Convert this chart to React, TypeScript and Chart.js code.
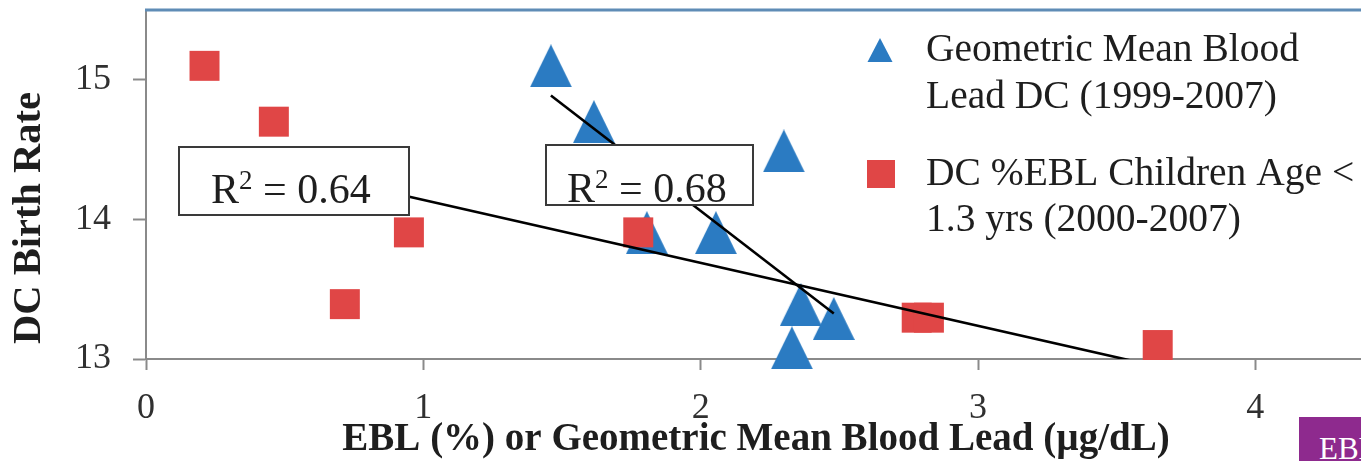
import React, { useEffect, useRef } from "react";
import { Chart, registerables } from "chart.js";

Chart.register(...registerables);

// Geometric mean blood lead, DC (1999-2007): x = µg/dL, y = birth rate
const leadX = [1.46, 1.615, 1.806, 2.055, 2.3, 2.361, 2.48, 2.329];
const leadY = [15.1, 14.7, 13.905, 13.905, 14.49, 13.39, 13.29, 13.08];

// DC %EBL children age < 1.3 yrs (2000-2007): x = %, y = birth rate
const eblX = [0.211, 0.461, 0.717, 0.948, 1.775, 2.779, 2.823, 3.648];
const eblY = [15.1, 14.7, 13.393, 13.907, 13.907, 13.296, 13.296, 13.1];

const xTickValues = [0, 1, 2, 3, 4];
const yTickValues = [13, 14, 15];

const seriesNames = [
  ["Geometric Mean Blood", "Lead DC (1999-2007)"],
  ["DC %EBL Children Age <", "1.3 yrs (2000-2007)"],
];
const rSquaredValues = ["0.64", "0.68"];

const xTitle = "EBL (%) or Geometric Mean Blood Lead (µg/dL)";
const yTitle = "DC Birth Rate";

const BLUE = "#2B7BC2";
const RED = "#E04646";
const SERIF = "'Liberation Serif', 'Times New Roman', serif";
const AXIS_GRAY = "#8A8A8A";
const TEXT = "#1E1E1E";

const CANVAS_W = 1424;
const CANVAS_H = 461;

// Least-squares line spanning the series' x range
function trendLine(xs: number[], ys: number[]) {
  const n = xs.length;
  const mx = xs.reduce((a, b) => a + b, 0) / n;
  const my = ys.reduce((a, b) => a + b, 0) / n;
  let sxy = 0;
  let sxx = 0;
  for (let i = 0; i < n; i++) {
    sxy += (xs[i] - mx) * (ys[i] - my);
    sxx += (xs[i] - mx) * (xs[i] - mx);
  }
  const slope = sxy / sxx;
  const x0 = Math.min(...xs);
  const x1 = Math.max(...xs);
  return [
    { x: x0, y: my + slope * (x0 - mx) },
    { x: x1, y: my + slope * (x1 - mx) },
  ];
}

const toPoints = (xs: number[], ys: number[]) => xs.map((x, i) => ({ x, y: ys[i] }));

// "R² = value" with a raised, smaller 2
function drawRSquared(ctx: CanvasRenderingContext2D, value: string, x: number, y: number) {
  ctx.textAlign = "left";
  ctx.textBaseline = "alphabetic";
  ctx.font = `42px ${SERIF}`;
  ctx.fillText("R", x, y);
  let cx = x + ctx.measureText("R").width;
  ctx.font = `27px ${SERIF}`;
  ctx.fillText("2", cx, y - 14);
  cx += ctx.measureText("2").width;
  ctx.font = `42px ${SERIF}`;
  ctx.fillText(` = ${value}`, cx, y);
}

const overlayPlugin = {
  id: "overlay",
  afterDatasetsDraw(chart: any) {
    const ctx = chart.ctx;
    const boxes = [
      { x: 179, y: 147, w: 230, h: 68, tx: 211, ty: 203 },
      { x: 546, y: 145, w: 207, h: 60, tx: 567, ty: 202 },
    ];
    ctx.save();
    boxes.forEach((b, i) => {
      ctx.fillStyle = "#ffffff";
      ctx.fillRect(b.x, b.y, b.w, b.h);
      ctx.strokeStyle = "#3a3a3a";
      ctx.lineWidth = 2;
      ctx.strokeRect(b.x, b.y, b.w, b.h);
      ctx.fillStyle = TEXT;
      drawRSquared(ctx, rSquaredValues[i], b.tx, b.ty);
    });
    ctx.restore();
  },
  afterDraw(chart: any) {
    const ctx = chart.ctx;
    const area = chart.chartArea;
    ctx.save();

    // top border of the plot area
    ctx.strokeStyle = "#5F8CB6";
    ctx.lineWidth = 3;
    ctx.beginPath();
    ctx.moveTo(area.left - 1, area.top);
    ctx.lineTo(chart.width, area.top);
    ctx.stroke();

    // axis titles
    ctx.fillStyle = TEXT;
    ctx.textAlign = "center";
    ctx.textBaseline = "alphabetic";
    ctx.font = `bold 39px ${SERIF}`;
    ctx.fillText(xTitle, 756, 450);

    ctx.save();
    ctx.translate(40, 218);
    ctx.rotate(-Math.PI / 2);
    ctx.font = `bold 40.5px ${SERIF}`;
    ctx.fillText(yTitle, 0, 0);
    ctx.restore();

    // legend
    ctx.fillStyle = BLUE;
    ctx.beginPath();
    ctx.moveTo(867.5, 62);
    ctx.lineTo(880, 38);
    ctx.lineTo(892.5, 62);
    ctx.closePath();
    ctx.fill();
    ctx.fillStyle = RED;
    ctx.fillRect(867, 160, 28, 28);

    ctx.fillStyle = TEXT;
    ctx.font = `39.5px ${SERIF}`;
    ctx.textAlign = "left";
    ctx.fillText(seriesNames[0][0], 926, 61);
    ctx.fillText(seriesNames[0][1], 926, 108);
    ctx.fillText(seriesNames[1][0], 926, 185);
    ctx.fillText(seriesNames[1][1], 926, 231);

    ctx.restore();
  },
};

export default function App() {
  const ref = useRef<HTMLCanvasElement>(null);

  useEffect(() => {
    const tri = document.createElement("canvas");
    tri.width = 42;
    tri.height = 43;
    const tctx = tri.getContext("2d")!;
    tctx.fillStyle = BLUE;
    tctx.beginPath();
    tctx.moveTo(0, 43);
    tctx.lineTo(21, 0);
    tctx.lineTo(42, 43);
    tctx.closePath();
    tctx.fill();

    const chart = new Chart(ref.current!, {
      type: "scatter",
      data: {
        datasets: [
          {
            type: "line",
            label: "EBL trend",
            data: trendLine(eblX, eblY),
            borderColor: "#000000",
            borderWidth: 2.6,
            pointRadius: 0,
            order: 0,
          } as any,
          {
            type: "line",
            label: "Blood lead trend",
            data: trendLine(leadX, leadY),
            borderColor: "#000000",
            borderWidth: 2.6,
            pointRadius: 0,
            order: 0,
          } as any,
          {
            label: seriesNames[1].join(" "),
            data: toPoints(eblX, eblY),
            pointStyle: "rect",
            pointRadius: 21.2,
            backgroundColor: RED,
            borderWidth: 0,
            clip: false,
            order: 1,
          } as any,
          {
            label: seriesNames[0].join(" "),
            data: toPoints(leadX, leadY),
            pointStyle: tri,
            pointRadius: 22,
            backgroundColor: BLUE,
            borderWidth: 0,
            clip: false,
            order: 2,
          } as any,
        ],
      },
      options: {
        responsive: false,
        animation: false,
        events: [],
        layout: { autoPadding: false, padding: { top: 10, right: 30, left: 0, bottom: 0 } },
        scales: {
          x: {
            type: "linear",
            min: 0,
            max: 4.5,
            afterBuildTicks: (s: any) => {
              s.ticks = xTickValues.map((v) => ({ value: v }));
            },
            afterFit: (s: any) => {
              s.height = 102;
              s.paddingLeft = 0;
              s.paddingRight = 0;
            },
            grid: {
              drawOnChartArea: false,
              drawTicks: true,
              tickLength: 11,
              tickColor: AXIS_GRAY,
              tickWidth: 2,
            },
            border: { color: AXIS_GRAY, width: 2 },
            ticks: {
              font: { family: SERIF, size: 36 },
              color: "#303030",
              padding: 17,
              maxRotation: 0,
            },
          },
          y: {
            type: "linear",
            min: 13,
            max: 15.5,
            afterBuildTicks: (s: any) => {
              s.ticks = yTickValues.map((v) => ({ value: v }));
            },
            afterFit: (s: any) => {
              s.width = 146;
              s.paddingTop = 0;
              s.paddingBottom = 0;
            },
            grid: {
              drawOnChartArea: false,
              drawTicks: true,
              tickLength: 13,
              tickColor: AXIS_GRAY,
              tickWidth: 2,
            },
            border: { color: AXIS_GRAY, width: 2 },
            ticks: {
              font: { family: SERIF, size: 36, lineHeight: 0.5 },
              color: "#303030",
              padding: 22,
            },
          },
        },
        plugins: {
          legend: { display: false },
          tooltip: { enabled: false },
        },
      },
      plugins: [overlayPlugin],
    } as any);

    return () => chart.destroy();
  }, []);

  return (
    <div
      style={{
        position: "absolute",
        left: 0,
        top: 0,
        width: 1361,
        height: 461,
        overflow: "hidden",
        background: "#ffffff",
      }}
    >
      <canvas
        ref={ref}
        width={CANVAS_W}
        height={CANVAS_H}
        style={{ display: "block", width: CANVAS_W, height: CANVAS_H }}
      />
      <div
        style={{
          position: "absolute",
          left: 1299,
          top: 417,
          width: 90,
          height: 60,
          background: "#8E2A8E",
          color: "#ffffff",
          fontFamily: SERIF,
          fontSize: 31,
          lineHeight: "31px",
          paddingLeft: 20,
          paddingTop: 16,
          boxSizing: "border-box",
          whiteSpace: "nowrap",
        }}
      >
        EBL
      </div>
    </div>
  );
}
